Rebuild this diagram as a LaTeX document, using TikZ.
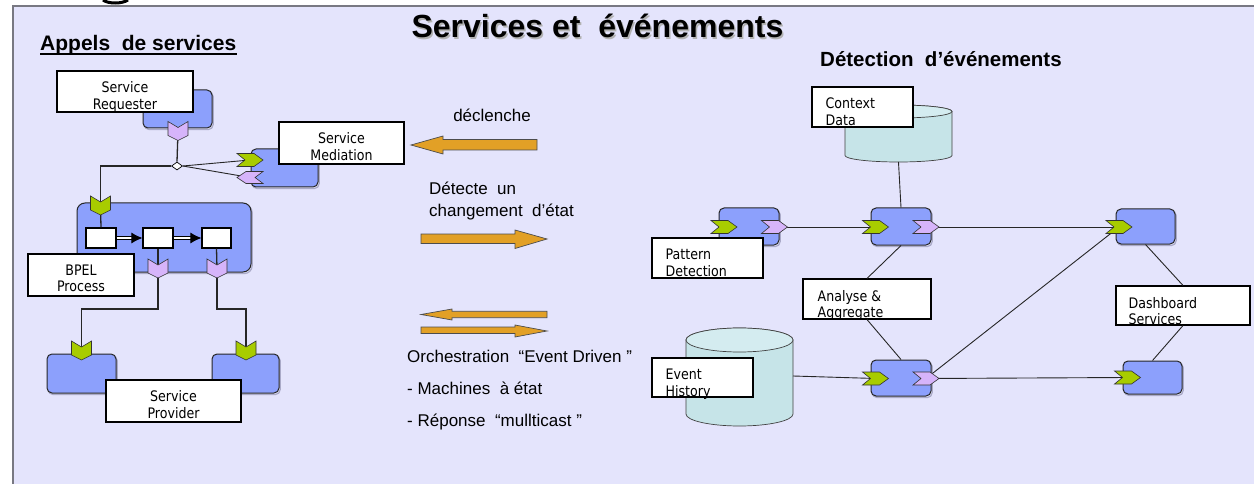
\documentclass[tikz,border=0pt]{standalone}
\usepackage{fontspec}
\setmainfont{Liberation Sans}
\newfontfamily\lblfont[FakeStretch=0.87]{DejaVu Sans}
\usetikzlibrary{shapes.geometric,arrows.meta,calc}
\definecolor{bgc}{RGB}{228,228,252}
\definecolor{framec}{RGB}{120,120,130}
\definecolor{cblue}{RGB}{140,160,252}
\definecolor{cshadow}{RGB}{170,170,200}
\definecolor{cgreen}{RGB}{168,204,0}
\definecolor{cpurp}{RGB}{214,180,250}
\definecolor{corange}{RGB}{226,160,38}
\definecolor{cteal}{RGB}{198,228,232}
\definecolor{cteal2}{RGB}{212,236,240}
\tikzset{
  bluebox/.style={draw=black!85, fill=cblue, rounded corners=5pt, line width=1pt, inner sep=0,
    preaction={draw=cshadow, line width=1.2pt, transform canvas={shift={(1.2pt,-1.6pt)}}}},
  lblbox/.style={draw=black, fill=white, line width=1.1pt, inner sep=0},
  ltxt/.style={font=\lblfont\fontsize{14.5}{16.5}\selectfont, inner sep=0, align=center, anchor=north},
  rtxt/.style={font=\lblfont\fontsize{14.5}{16.5}\selectfont, inner sep=0, align=left, anchor=north west},
  chv/.style={draw=black!80, line width=0.6pt},
  gr/.style={chv, fill=cgreen},
  pu/.style={chv, fill=cpurp},
  chevD/.pic={\draw[pic actions] (-10,-9.5) -- (0,-3.5) -- (10,-9.5) -- (10,4.5) -- (0,9.5) -- (-10,4.5) -- cycle;},
  chevR/.pic={\draw[pic actions] (-13,-6.5) -- (4,-6.5) -- (13,0) -- (4,6.5) -- (-13,6.5) -- (-5,0) -- cycle;},
  chevL/.pic={\draw[pic actions] (13,-6) -- (-4,-6) -- (-13,0) -- (-4,6) -- (13,6) -- (5,0) -- cycle;},
  conn/.style={draw=black!85, line width=1.3pt},
  fine/.style={draw=black!85, line width=0.9pt},
  dbl/.style={draw=black, line width=0.9pt, double=white, double distance=1.8pt, -{Latex[length=11pt,width=11pt]}},
  midtxt/.style={font=\fontsize{17}{17}\selectfont, inner sep=0, anchor=base west},
  oarrow/.style={fill=corange, draw=black!70, line width=0.7pt},
  cyl/.style={fill=cteal, draw=black!75, line width=0.7pt}
}
\begin{document}
\begin{tikzpicture}[x=1pt,y=-1pt]
\useasboundingbox (0,0) rectangle (1254,484);
\fill[white] (0,0) rectangle (1254,484);
\fill[bgc] (13,6) rectangle (1254,484);
\draw[framec, line width=1.6pt] (13,484) -- (13,6) -- (1254,6);
\draw[line width=3pt] (103,0) .. controls (108,4) and (122,4) .. (128,0);

% titles
\node[font=\bfseries\fontsize{32}{32}\selectfont, text=black!30, inner sep=0, anchor=base] at (599,39.5) {Services et\ \ événements};
\node[font=\bfseries\fontsize{32}{32}\selectfont, inner sep=0, anchor=base] (title) at (597.5,38) {Services et\ \ événements};
\node[font=\bfseries\fontsize{21}{21}\selectfont, inner sep=0, anchor=base west] (appels) at (40,51) {Appels\ \ de services};
\draw[line width=1.5pt] ($(appels.base west)+(0,2.8)$) -- ($(appels.base east)+(0,2.8)$);
\node[font=\bfseries\fontsize{20.5}{20.5}\selectfont, inner sep=0, anchor=base west] (detect) at (820,66.5) {Détection\ \ d’événements};

% ---------- left part ----------
\node[bluebox, minimum width=69, minimum height=38] (reqB) at (177.5,109) {};
\node[bluebox, minimum width=67, minimum height=38] (medB) at (284.5,168) {};
\node[bluebox, rounded corners=8pt, minimum width=174, minimum height=69] (bpelB) at (164,237.5) {};
\node[bluebox, minimum width=69, minimum height=39] (provB1) at (81.5,373.5) {};
\node[bluebox, minimum width=67, minimum height=39] (provB2) at (245.5,373.5) {};

\node[lblbox, minimum width=30, minimum height=20] (b1) at (101,238) {};
\node[lblbox, minimum width=30, minimum height=20] (b2) at (158,238) {};
\node[lblbox, minimum width=29, minimum height=20] (b3) at (216.5,238) {};

\node[draw=black, fill=white, diamond, inner sep=0, minimum width=11, minimum height=8, line width=0.7pt] (dia) at (177,166) {};

\coordinate (reqP) at (178,131);
\coordinate (medG) at (250,160);
\coordinate (medP) at (250,177.5);
\coordinate (bpelG) at (100.5,205.5);
\coordinate (bpelP1) at (158,268.5);
\coordinate (bpelP2) at (217,268.5);
\coordinate (provG1) at (81.5,350.5);
\coordinate (provG2) at (246,350.5);

\draw[conn] (reqP) -- (dia.north);
\draw[conn] (dia.west) -| (bpelG);
\draw[fine] (dia.east) -- (medG);
\draw[fine] (dia.east) -- (medP);
\draw[conn] (bpelG) -- (b1.north);
\draw[dbl] (b1.east) -- (b2.west);
\draw[dbl] (b2.east) -- (b3.west);
\draw[conn] (b2.south) -- (bpelP1);
\draw[conn] (b3.south) -- (bpelP2);
\draw[conn] (bpelP1) -- ++(0,40.5) -| (provG1);
\draw[conn] (bpelP2) -- ++(0,40.5) -| (provG2);

\node[lblbox, minimum width=136, minimum height=41] (reqL) at (125,91.5) {};
\node[lblbox, minimum width=125, minimum height=42] (medL) at (341.5,143) {};
\node[lblbox, minimum width=106, minimum height=42] (bpelL) at (81,275) {};
\node[lblbox, minimum width=135, minimum height=42] (provL) at (173.5,401) {};

\pic[pu] at (reqP) {chevD};
\pic[gr] at (medG) {chevR};
\pic[pu] at (medP) {chevL};
\pic[gr] at (bpelG) {chevD};
\pic[pu] at (bpelP1) {chevD};
\pic[pu] at (bpelP2) {chevD};
\pic[gr] at (provG1) {chevD};
\pic[gr] at (provG2) {chevD};

\node[ltxt] at ($(reqL.north)+(0,11)$) {Service\\Requester};
\node[ltxt] at ($(medL.north)+(0,11)$) {Service\\Mediation};
\node[ltxt] at ($(bpelL.north)+(0,11)$) {BPEL\\Process};
\node[ltxt] at ($(provL.north)+(0,11)$) {Service\\Provider};

% ---------- middle ----------
\node[midtxt, anchor=base] (decl) at (492,121.5) {déclenche};
\draw[oarrow] (411,145) -- (443,136) -- (443,139.5) -- (537,139.5) -- (537,150) -- (443,150) -- (443,154) -- cycle;
\node[midtxt] (det1) at (429,195) {Détecte\ \ un};
\node[midtxt] (det2) at (429,216.5) {changement\ \ d’état};
\draw[oarrow] (547,239) -- (515,230) -- (515,234) -- (421,234) -- (421,243.5) -- (515,243.5) -- (515,248.5) -- cycle;
\draw[oarrow] (421,314.5) -- (452,309) -- (452,311.3) -- (547,311.3) -- (547,317.7) -- (452,317.7) -- (452,320) -- cycle;
\draw[oarrow] (547,331) -- (515,325) -- (515,327) -- (421,327) -- (421,333.5) -- (515,333.5) -- (515,337) -- cycle;
\node[midtxt] (orch) at (407,362.5) {Orchestration\ \ “Event Driven\ ”};
\node[midtxt] (mach) at (407,394) {-\ Machines\ \ à état};
\node[midtxt] (rep) at (407,426.5) {-\ Réponse\ \ “mullticast\ ”};

% ---------- right part ----------
\path[cyl] (845,111.5) -- (845,155.5) arc[start angle=180,end angle=0,x radius=53.5,y radius=6.5] -- (952,111.5) arc[start angle=0,end angle=-180,x radius=53.5,y radius=6.5] -- cycle;
\draw[fill=cteal2, draw=black!75, line width=0.7pt] (898.5,111.5) ellipse[x radius=53.5, y radius=6.5];
\coordinate (ctxbot) at (898.5,162);
\path[cyl] (686,340) -- (686,414) arc[start angle=180,end angle=0,x radius=53.5,y radius=12] -- (793,340) arc[start angle=0,end angle=-180,x radius=53.5,y radius=12] -- cycle;
\draw[fill=cteal2, draw=black!75, line width=0.7pt] (739.5,340) ellipse[x radius=53.5, y radius=12];
\coordinate (ehright) at (793,376);

\node[bluebox, minimum width=60, minimum height=37] (n1) at (749,226.5) {};
\node[bluebox, minimum width=60, minimum height=37] (n2) at (901,226.5) {};
\node[bluebox, minimum width=59, minimum height=35] (n3) at (1145.5,226.5) {};
\node[bluebox, minimum width=59, minimum height=33] (n4) at (1152.5,377.5) {};
\node[bluebox, minimum width=60, minimum height=36] (n5) at (901,378) {};

\coordinate (n1G) at (724,227);
\coordinate (n1P) at (774.5,227);
\coordinate (n2G) at (875.5,227);
\coordinate (n2P) at (926,227);
\coordinate (n3G) at (1119,227);
\coordinate (n4G) at (1127.5,377.5);
\coordinate (n5G) at (875.5,378.5);
\coordinate (n5P) at (926,378.5);

\node[lblbox, minimum width=101, minimum height=40] (ctxL) at (862.5,107) {};
\node[lblbox, minimum width=111, minimum height=40] (patL) at (707.5,258) {};
\node[lblbox, minimum width=128, minimum height=40] (aaL) at (867,299) {};
\node[lblbox, minimum width=101, minimum height=39] (ehL) at (702.5,377.5) {};
\node[lblbox, minimum width=134, minimum height=39] (dsL) at (1183,305.5) {};

\draw[fine] (ctxbot) -- (n2.north);
\draw[fine] (n1P) -- (n2G);
\draw[fine] (n2P) -- (n3G);
\draw[fine] (n2.south) -- (aaL.north);
\draw[fine] (aaL.south) -- (n5.north);
\draw[fine] (ehright) -- (n5G);
\draw[fine] (n5P) -- (n3G);
\draw[fine] (n5P) -- (n4G);
\draw[fine] (n3.south) -- (dsL.north);
\draw[fine] (dsL.south) -- (n4.north);

\pic[gr] at (n1G) {chevR};
\pic[pu] at (n1P) {chevR};
\pic[gr] at (n2G) {chevR};
\pic[pu] at (n2P) {chevR};
\pic[gr] at (n3G) {chevR};
\pic[gr] at (n4G) {chevR};
\pic[gr] at (n5G) {chevR};
\pic[pu] at (n5P) {chevR};

\node[rtxt] at ($(ctxL.north west)+(14,11.5)$) {Context\\Data};
\node[rtxt] at ($(patL.north west)+(14,11.5)$) {Pattern\\Detection};
\node[rtxt] at ($(aaL.north west)+(15,11.5)$) {Analyse \&\\Aggregate};
\node[rtxt] at ($(ehL.north west)+(14,11.5)$) {Event\\History};
\node[rtxt] at ($(dsL.north west)+(13,11.5)$) {Dashboard\\Services};
\end{tikzpicture}
\end{document}
